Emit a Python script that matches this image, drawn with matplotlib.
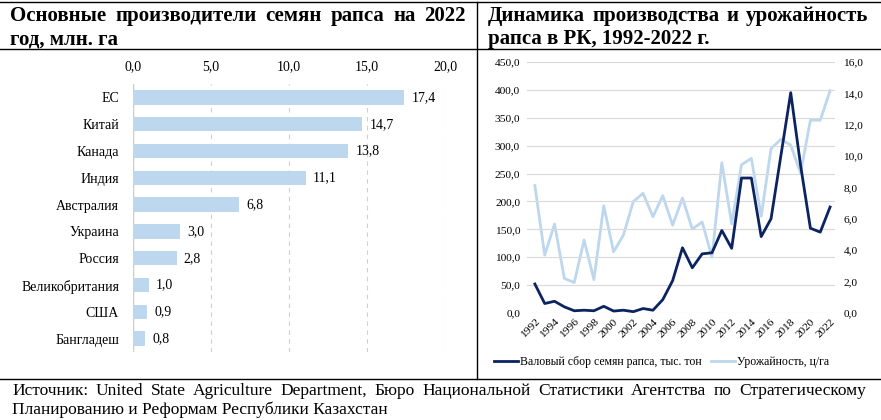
import numpy as np
import matplotlib
matplotlib.use('Agg')
import matplotlib.pyplot as plt
from matplotlib.lines import Line2D
from matplotlib.ticker import FuncFormatter, MultipleLocator

plt.rcParams['font.family'] = ['Liberation Serif', 'DejaVu Serif']

countries = ['ЕС', 'Китай', 'Канада', 'Индия', 'Австралия', 'Украина',
             'Россия', 'Великобритания', 'США', 'Бангладеш']
area = [17.4, 14.7, 13.8, 11.1, 6.8, 3.0, 2.8, 1.0, 0.9, 0.8]

years = list(range(1992, 2023))
production = [52, 17, 21, 11, 4, 5, 4, 12, 3.5, 5, 2.4, 8, 5, 24, 58, 117,
              81, 106, 108, 148, 116, 242, 242, 137, 169, 282, 395, 265,
              152, 145, 190]
yield_cha = [8.12, 3.69, 5.67, 2.2, 1.94, 4.65, 2.13, 6.84, 3.9, 4.97, 7.1,
             7.63, 6.14, 7.48, 5.6, 7.33, 5.35, 5.8, 3.55, 9.58, 5.68, 9.45,
             9.86, 6.17, 10.48, 11.07, 10.7, 8.92, 12.29, 12.29, 14.17]

bar_color = '#BDD7EE'
dark = '#0B2361'
light = '#BDD7EE'

W, H = 881, 420
fig = plt.figure(figsize=(W / 100, H / 100), dpi=100)


def box(x0, y0, x1, y1):
    # pixel box (top-left origin) -> figure fraction rect
    return [x0 / W, 1 - y1 / H, (x1 - x0) / W, (y1 - y0) / H]


def comma(v, pos=None):
    return ('%.1f' % v).replace('.', ',')


def justify(words, x0, x1, y, **kw):
    texts = [fig.text(0, 1 - y / H, w, va='baseline', ha='left', **kw) for w in words]
    r = fig.canvas.get_renderer()
    widths = [t.get_window_extent(r).width for t in texts]
    gap = (x1 - x0 - sum(widths)) / (len(words) - 1)
    x = x0
    for t, w in zip(texts, widths):
        t.set_x(x / W)
        x += w + gap


# frame lines
for yy in (2, 49, 379):
    fig.add_artist(Line2D([0, 1], [1 - yy / H] * 2, color='black', lw=1.0))
fig.add_artist(Line2D([477 / W] * 2, [1 - 2 / H, 1 - 379 / H], color='black', lw=1.0))

# titles
tkw = dict(fontsize=15, fontweight='bold')
justify('Основные производители семян рапса на 2022'.split(), 10, 466, 21, **tkw)
fig.text(10 / W, 1 - 44 / H, 'год, млн. га', va='baseline', **tkw)
justify('Динамика производства и урожайность'.split(), 488, 868, 21, **tkw)
fig.text(488 / W, 1 - 44 / H, 'рапса в РК, 1992-2022 г.', va='baseline', **tkw)

# source
skw = dict(fontsize=12.5)
justify('Источник: United State Agriculture Department, Бюро Национальной '
        'Статистики Агентства по Стратегическому'.split(), 12, 866, 395, **skw)
fig.text(12 / W, 1 - 414 / H, 'Планированию и Реформам Республики Казахстан',
         va='baseline', **skw)

# ---- left: bars
ax1 = fig.add_axes(box(133, 84, 445, 352))
pos = np.arange(len(countries))
ax1.barh(pos, area, height=0.53, color=bar_color, zorder=2)
ax1.set_ylim(len(countries) - 0.5, -0.5)
ax1.set_xlim(0, 20)
ax1.xaxis.set_major_locator(MultipleLocator(5))
ax1.xaxis.set_major_formatter(FuncFormatter(comma))
ax1.xaxis.tick_top()
ax1.tick_params(axis='x', length=0, labelsize=10, pad=8)
ax1.set_yticks(pos)
ax1.set_yticklabels(countries, fontsize=10)
ax1.tick_params(axis='y', length=0, pad=10)
for s in ax1.spines.values():
    s.set_visible(False)
ax1.grid(axis='x', color='#D0D0D0', ls=(0, (4, 4)), lw=0.8, zorder=0)
ax1.axvline(0, color='#C8C8C8', lw=1.0, zorder=1)
for p, v in zip(pos, area):
    ax1.text(v + 0.45, p, comma(v), va='center', ha='left', fontsize=10)

# ---- right: lines
ax2 = fig.add_axes(box(527, 62, 835, 313))
ax2.plot(years, production, color=dark, lw=2.0, zorder=3)
ax2.set_ylim(0, 450)
ax2.set_xlim(1991.2, 2022.5)
ax2.yaxis.set_major_locator(MultipleLocator(50))
ax2.yaxis.set_major_formatter(FuncFormatter(comma))
ax2.grid(axis='y', color='#D9D9D9', lw=0.8, zorder=0)
ax2.set_xticks(years[::2])
ax2.set_xticklabels([str(y) for y in years[::2]], rotation=45, ha='right',
                    rotation_mode='anchor', fontsize=8.2)
ax2.tick_params(axis='x', length=0, pad=3)
ax2.tick_params(axis='y', length=0, labelsize=8.2, pad=5)
for s in ax2.spines.values():
    s.set_visible(False)

ax3 = ax2.twinx()
ax3.plot(years, yield_cha, color=light, lw=2.0, zorder=2)
ax3.set_ylim(0, 16)
ax3.yaxis.set_major_locator(MultipleLocator(2))
ax3.yaxis.set_major_formatter(FuncFormatter(comma))
ax3.tick_params(axis='y', length=0, labelsize=8.2, pad=6)
for s in ax3.spines.values():
    s.set_visible(False)
ax2.set_zorder(ax3.get_zorder() + 1)
ax2.patch.set_visible(False)

handles = [Line2D([], [], color=dark, lw=2.0), Line2D([], [], color=light, lw=2.0)]
fig.legend(handles, ['Валовый сбор семян рапса, тыс. тон', 'Урожайность, ц/га'],
           loc='center', bbox_to_anchor=(662 / W, 1 - 362 / H), ncol=2,
           frameon=False, fontsize=8.5, handlelength=2.0, handletextpad=0.2,
           columnspacing=0.8, borderpad=0)

fig.savefig('out.png', dpi=100)
